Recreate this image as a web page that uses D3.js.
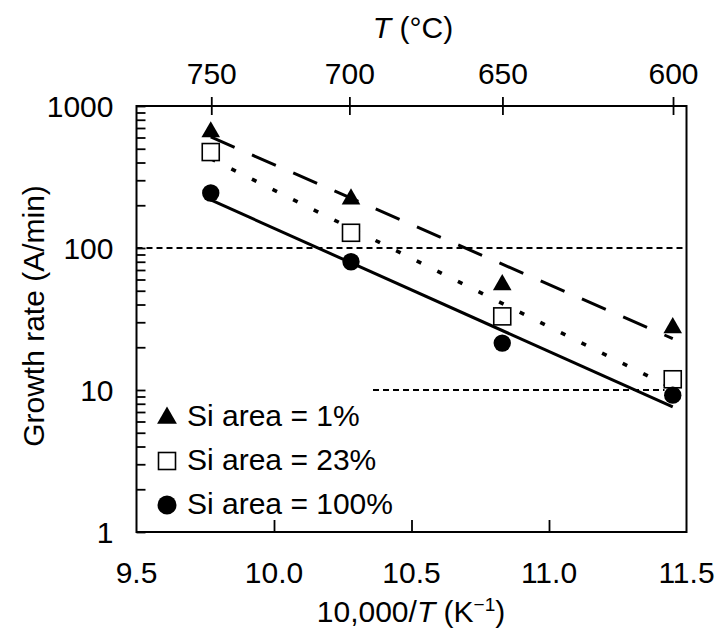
<!DOCTYPE html>
<html>
<head>
<meta charset="utf-8">
<script src="https://cdn.jsdelivr.net/npm/d3@7"></script>
<style>
  html, body { margin: 0; padding: 0; background: #fff; }
  svg { display: block; }
  text { font-family: "Liberation Sans", Arial, Helvetica, sans-serif; fill: #000; }
</style>
</head>
<body>
<svg id="chart" width="720" height="631"></svg>
<script>
// ---- data ----
const invT = [9.77, 10.28, 10.83, 11.45];          // 10,000/T (K^-1) at 750, 700, 650, 600 °C
const si1 = [656, 221, 55, 27.4];                  // Si area = 1%   (triangles)
const si23 = [474, 128, 33, 11.9];                 // Si area = 23%  (open squares)
const si100 = [244, 80, 21.4, 9.2];                // Si area = 100% (filled circles)
const fitX = [9.77, 11.45];                        // fitted line end points (x)
const fit1 = [605, 23];                            // dashed fit
const fit23 = [426, 10.3];                         // dotted fit
const fit100 = [218, 7.6];                         // solid fit
const topTickLabels = [750, 700, 650, 600];        // T (°C)
const bottomTickLabels = ["9.5", "10.0", "10.5", "11.0", "11.5"];
const bottomTickValues = [9.5, 10.0, 10.5, 11.0, 11.5];
const yTickValues = [1, 10, 100, 1000];
const refY = [100, 10];                            // horizontal dashed reference lines
const refX0 = [9.5, 10.36];
const refX1 = [11.5, 11.42];
const legendLabels = ["Si area = 1%", "Si area = 23%", "Si area = 100%"];

// ---- layout ----
const svg = d3.select("#chart");
const L = 136.5, R = 686.5, T = 106, B = 532;
const x = d3.scaleLinear().domain([9.5, 11.5]).range([L, R]);
const y = d3.scaleLog().domain([1, 1000]).range([B, T]);
const xTop = t => x(10000 / (t + 273.15));

// reference dashed lines
svg.append("g").selectAll("line").data(refY).join("line")
  .attr("x1", (d, i) => x(refX0[i])).attr("x2", (d, i) => x(refX1[i]))
  .attr("y1", d => y(d)).attr("y2", d => y(d))
  .attr("stroke", "#000").attr("stroke-width", 1.8).attr("stroke-dasharray", "6,4");

// left axis minor/major ticks (inside)
const leftTicks = [];
[1, 10, 100].forEach(dec => { for (let k = 1; k <= 9; k++) leftTicks.push(dec * k); });
leftTicks.push(1000);
const leftAxis = d3.axisRight(y).tickValues(leftTicks).tickSize(9).tickFormat("");
svg.append("g").attr("transform", `translate(${L},0)`).call(leftAxis)
  .call(g => g.select(".domain").remove())
  .call(g => g.selectAll("line").attr("stroke-width", 1.8));
// left labels
const leftLab = d3.axisLeft(y).tickValues(yTickValues).tickSize(0).tickPadding(23).tickFormat(d3.format("d"));
svg.append("g").attr("transform", `translate(${L},0)`).call(leftLab)
  .call(g => g.select(".domain").remove())
  .call(g => g.selectAll("text").attr("font-size", 30).attr("font-family", null).attr("dy", "0.36em"));

// bottom ticks (inside) and labels
const bottomAxis = d3.axisTop(x).tickValues([10.0, 10.5, 11.0]).tickSize(12).tickFormat("");
svg.append("g").attr("transform", `translate(0,${B})`).call(bottomAxis)
  .call(g => g.select(".domain").remove())
  .call(g => g.selectAll("line").attr("stroke-width", 1.8));
svg.append("g").selectAll("text").data(bottomTickValues).join("text")
  .attr("x", d => x(d)).attr("y", 583).attr("text-anchor", "middle").attr("font-size", 30)
  .text((d, i) => bottomTickLabels[i]);

// top ticks (crossing frame) and labels
svg.append("g").selectAll("line").data(topTickLabels).join("line")
  .attr("x1", d => xTop(d)).attr("x2", d => xTop(d)).attr("y1", T - 9).attr("y2", T + 9)
  .attr("stroke", "#000").attr("stroke-width", 1.8);
svg.append("g").selectAll("text").data(topTickLabels).join("text")
  .attr("x", d => xTop(d)).attr("y", 84).attr("text-anchor", "middle").attr("font-size", 30)
  .text(d => d);

// frame
svg.append("rect").attr("x", L).attr("y", T).attr("width", R - L).attr("height", B - T)
  .attr("fill", "none").attr("stroke", "#000").attr("stroke-width", 2);

// fitted lines
const line = d3.line().x(d => x(d[0])).y(d => y(d[1]));
const fits = [
  { v: fit1, dash: "26,19", w: 3 },
  { v: fit23, dash: "5,18", w: 3.6 },
  { v: fit100, dash: null, w: 3 }
];
fits.forEach(f => {
  svg.append("path").datum(fitX.map((xv, i) => [xv, f.v[i]]))
    .attr("d", line).attr("fill", "none").attr("stroke", "#000")
    .attr("stroke-width", f.w).attr("stroke-dasharray", f.dash);
});

// markers
const tri = d3.symbol().type(d3.symbolTriangle).size(150);
svg.append("g").selectAll("path").data(invT.map((v, i) => [v, si1[i]])).join("path")
  .attr("d", tri).attr("transform", d => `translate(${x(d[0])},${y(d[1])})`).attr("fill", "#000");
const sq = 17;
svg.append("g").selectAll("rect").data(invT.map((v, i) => [v, si23[i]])).join("rect")
  .attr("x", d => x(d[0]) - sq / 2).attr("y", d => y(d[1]) - sq / 2)
  .attr("width", sq).attr("height", sq)
  .attr("fill", "#fff").attr("stroke", "#000").attr("stroke-width", 1.6);
svg.append("g").selectAll("circle").data(invT.map((v, i) => [v, si100[i]])).join("circle")
  .attr("cx", d => x(d[0])).attr("cy", d => y(d[1])).attr("r", 8.7).attr("fill", "#000");

// legend
const legY = [417, 461, 505];
const lg = svg.append("g");
lg.append("path").attr("d", d3.symbol().type(d3.symbolTriangle).size(170))
  .attr("transform", `translate(167,${legY[0] + 1})`).attr("fill", "#000");
lg.append("rect").attr("x", 167 - 8.5).attr("y", legY[1] - 8.5).attr("width", 17).attr("height", 17)
  .attr("fill", "#fff").attr("stroke", "#000").attr("stroke-width", 1.6);
lg.append("circle").attr("cx", 167).attr("cy", legY[2]).attr("r", 9.5).attr("fill", "#000");
lg.selectAll("text").data(legendLabels).join("text")
  .attr("x", 187).attr("y", (d, i) => legY[i] + 9).attr("font-size", 30).text(d => d);

// axis titles
const tt = svg.append("text").attr("x", 413).attr("y", 38).attr("text-anchor", "middle").attr("font-size", 30);
tt.append("tspan").attr("font-style", "italic").text("T");
tt.append("tspan").text(" (°C)");

const xt = svg.append("text").attr("x", 411).attr("y", 622).attr("text-anchor", "middle").attr("font-size", 30);
xt.append("tspan").text("10,000/");
xt.append("tspan").attr("font-style", "italic").text("T");
xt.append("tspan").text(" (K");
xt.append("tspan").attr("font-size", 19).attr("dy", -11).text("−1");
xt.append("tspan").attr("dy", 11).text(")");

svg.append("text").attr("transform", "translate(44,316) rotate(-90)")
  .attr("text-anchor", "middle").attr("font-size", 30).text("Growth rate (A/min)");
</script>
</body>
</html>
